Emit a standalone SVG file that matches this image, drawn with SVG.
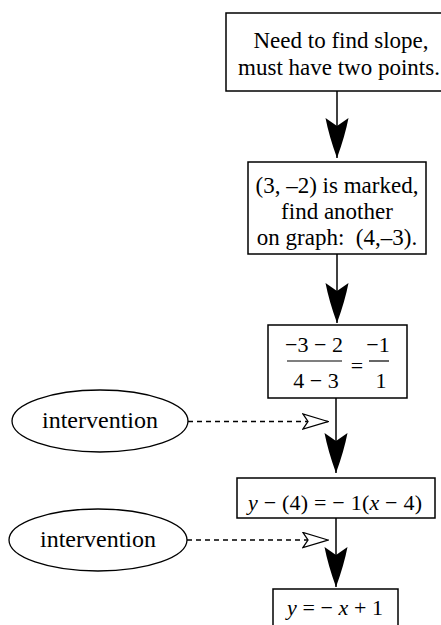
<svg xmlns="http://www.w3.org/2000/svg" width="441" height="625" viewBox="0 0 441 625">
<style>
.box{fill:#fff;stroke:#000;stroke-width:1.5}
.ell{fill:#fff;stroke:#000;stroke-width:1.3}
.t{font-size:23px;fill:#000;text-anchor:middle}
.m{font-size:22px;fill:#000;text-anchor:middle}
.e{font-size:24px;fill:#000;text-anchor:middle}
.i{font-style:italic}
.flow{stroke:#000;stroke-width:1.5;fill:none}
.dash{stroke:#000;stroke-width:1.3;fill:none;stroke-dasharray:5 4}
</style>
<defs>
<marker id="solid" markerUnits="userSpaceOnUse" viewBox="0 0 40 24" markerWidth="40" markerHeight="24" refX="40" refY="12" orient="auto">
<path d="M40,12 Q18,4 0,0.5 L8,12 L0,23.5 Q18,20 40,12 Z" fill="#000"/>
</marker>
<marker id="open" markerUnits="userSpaceOnUse" viewBox="-1 -1 27 17" markerWidth="27" markerHeight="17" refX="25" refY="7.5" orient="auto">
<path d="M25,7.5 L0,0 L5,7.5 L0,15 Z" fill="#fff" stroke="#000" stroke-width="1.3"/>
</marker>
</defs>
<g id="connectors">
<line class="flow" x1="337" y1="91" x2="337" y2="158" marker-end="url(#solid)"/>
<line class="flow" x1="337" y1="254" x2="337" y2="323" marker-end="url(#solid)"/>
<line class="flow" x1="336" y1="398" x2="336" y2="473" marker-end="url(#solid)"/>
<line class="flow" x1="336" y1="518" x2="336" y2="587" marker-end="url(#solid)"/>
<line class="dash" x1="188" y1="421.5" x2="328" y2="421.5" marker-end="url(#open)"/>
<line class="dash" x1="187" y1="540" x2="328" y2="540" marker-end="url(#open)"/>
</g>
<g font-family="Liberation Serif, Times New Roman, DejaVu Serif, serif">
<g id="n1">
<rect class="box" x="226" y="13" width="220" height="78"/>
<text class="t" x="341" y="48">Need to find slope,</text>
<text class="t" x="339" y="75">must have two points.</text>
</g>
<g id="n2">
<rect class="box" x="248" y="162" width="178" height="92"/>
<text class="t" x="337" y="193">(3, –2) is marked,</text>
<text class="t" x="337" y="219">find another</text>
<text class="t" x="337" y="245" xml:space="preserve">on graph:  (4,–3).</text>
</g>
<g id="n3">
<rect class="box" x="268" y="325" width="139" height="73"/>
<text class="m" x="314" y="352">−3 − 2</text>
<line x1="287" y1="361" x2="342" y2="361" stroke="#000" stroke-width="1.2"/>
<text class="m" x="316" y="388">4 − 3</text>
<text class="m" x="357" y="373">=</text>
<text class="m" x="378" y="352">−1</text>
<line x1="369" y1="361" x2="389" y2="361" stroke="#000" stroke-width="1.2"/>
<text class="m" x="381" y="388">1</text>
</g>
<g id="n4">
<rect class="box" x="237" y="478" width="198" height="40"/>
<text class="m" x="335" y="510" textLength="174" lengthAdjust="spacing"><tspan class="i">y</tspan> − (4) = − 1(<tspan class="i">x</tspan> − 4)</text>
</g>
<g id="n5">
<rect class="box" x="273" y="589" width="125" height="40"/>
<text class="m" x="335" y="615" textLength="96" lengthAdjust="spacing"><tspan class="i">y</tspan> = − <tspan class="i">x</tspan> + 1</text>
</g>
<g id="e1">
<ellipse class="ell" cx="100" cy="421" rx="88" ry="31"/>
<text class="e" x="100" y="428">intervention</text>
</g>
<g id="e2">
<ellipse class="ell" cx="98" cy="540" rx="89" ry="31"/>
<text class="e" x="98" y="547">intervention</text>
</g>
</g>
</svg>
